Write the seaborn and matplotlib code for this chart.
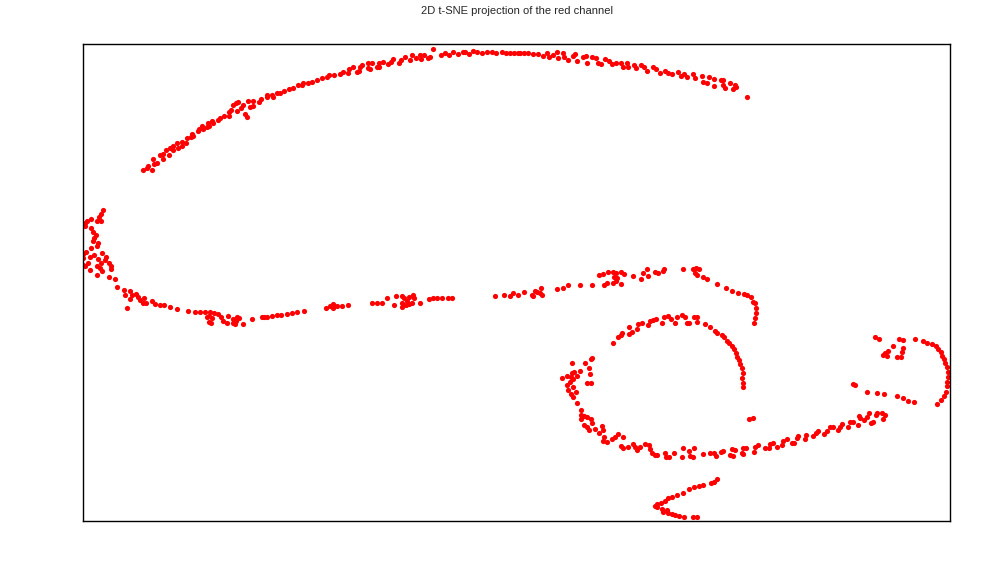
import numpy as np
import pandas as pd
import matplotlib
matplotlib.use("Agg")
import matplotlib.pyplot as plt
import seaborn as sns

# t-SNE embedding of the red channel (dim1, dim2)
upper_arc = [
    (143, 170), (148, 166), (147, 168), (152, 170), (153, 159), (154, 164), (157, 163), (160, 155),
    (163, 159), (163, 154), (166, 150), (169, 155), (170, 148), (173, 146), (173, 150), (177, 143),
    (178, 148), (182, 142), (182, 146), (186, 143), (187, 138), (191, 137), (192, 134), (193, 136),
    (198, 131), (199, 129), (202, 126), (203, 129), (207, 127), (208, 123), (209, 126), (212, 121),
    (213, 123), (218, 120), (220, 118), (224, 116), (229, 116), (229, 112), (231, 110), (233, 105),
    (236, 103), (238, 102), (237, 111), (241, 108), (245, 114), (247, 117), (243, 105), (248, 101),
    (250, 107), (253, 101), (253, 106), (259, 102), (261, 99), (267, 95), (267, 97), (272, 95),
    (273, 97), (277, 93), (280, 93), (284, 91), (289, 89), (293, 88), (298, 85), (302, 85),
    (303, 83), (308, 83), (312, 82), (317, 80), (322, 78), (327, 77), (329, 75),
    (334, 75), (340, 74), (343, 72), (348, 73), (349, 69), (353, 67), (357, 72), (359, 71),
    (360, 67), (362, 65), (368, 68), (368, 63), (370, 69), (372, 63), (377, 67), (379, 63),
    (379, 67), (383, 62), (388, 64), (391, 62), (393, 59), (399, 63), (401, 60), (405, 57),
    (410, 60), (412, 55), (416, 58), (420, 55), (421, 59), (424, 55), (428, 58), (430, 57),
    (433, 49), (441, 55), (445, 53), (449, 55), (453, 52), (458, 54), (463, 52), (465, 52),
    (469, 54), (473, 51), (477, 52), (482, 53), (487, 52), (492, 52), (496, 53), (502, 52),
    (506, 53), (510, 53), (514, 53), (518, 53),
    (520, 53), (524, 53), (528, 53), (533, 54), (538, 54), (543, 56), (547, 53), (549, 57),
    (553, 55), (557, 52), (558, 58), (563, 53), (564, 57), (568, 60), (573, 56), (575, 54),
    (577, 61), (583, 57), (586, 56), (587, 63), (592, 57), (596, 58), (598, 63), (601, 64),
    (605, 59), (609, 61), (612, 64), (616, 63), (621, 63), (623, 67), (627, 63), (628, 67),
    (634, 65), (636, 68), (641, 65), (644, 67), (647, 71), (653, 67), (656, 69), (660, 73),
    (665, 71), (668, 73), (672, 74), (678, 72), (681, 76), (684, 74), (687, 77), (693, 74),
    (695, 78), (702, 76), (703, 82), (707, 83), (709, 77), (714, 79), (714, 86), (721, 80),
    (723, 80), (723, 85), (725, 88), (730, 83), (733, 89), (735, 85), (736, 87), (747, 97),
]

left_hook = [
    (103, 210), (101, 214), (99, 217), (97, 221), (101, 221), (91, 219), (87, 221), (85, 223),
    (85, 226), (91, 228), (93, 232), (96, 235), (94, 238), (93, 241), (98, 243), (97, 246),
    (91, 248), (86, 252), (83, 254), (83, 258), (83, 265), (85, 266), (90, 270), (88, 263),
    (90, 257), (94, 255), (98, 259), (102, 253), (101, 263), (97, 266), (100, 268), (102, 271),
    (105, 260), (106, 257), (109, 263), (111, 266), (111, 269), (97, 275), (109, 277), (115, 279),
    (117, 287), (124, 290), (130, 291), (125, 295), (130, 299), (132, 295), (136, 294), (138, 297),
    (140, 300), (144, 298), (143, 303), (146, 303), (152, 301), (155, 304), (160, 305), (164, 305),
    (127, 308), (170, 307), (177, 309), (188, 311), (195, 312), (200, 312), (205, 312), (209, 316),
    (214, 313),
]

middle_band = [
    (210, 312), (207, 317), (212, 318), (209, 322), (211, 323), (218, 314), (221, 317), (223, 321),
    (227, 323), (228, 316), (233, 319), (233, 323), (236, 321), (237, 317), (239, 318), (235, 324),
    (243, 324), (252, 319), (262, 317), (264, 317), (267, 317), (272, 316), (277, 315), (281, 315),
    (287, 314), (292, 313), (297, 312), (304, 311), (326, 308), (330, 306), (333, 304), (334, 306),
    (333, 308), (337, 306), (342, 306), (348, 305), (372, 303), (377, 303), (382, 303), (387, 298),
    (396, 296), (394, 305), (402, 296), (404, 298), (407, 301), (409, 297), (413, 295), (414, 298),
    (402, 303), (402, 307), (406, 305), (409, 304), (412, 303), (420, 303), (429, 299), (433, 298),
    (437, 298), (442, 298), (448, 298), (452, 298),
    (495, 296), (504, 295), (510, 296), (513, 293), (518, 295), (524, 292), (532, 295), (533, 296),
    (535, 291), (537, 292), (541, 288), (540, 293), (542, 295), (557, 289), (563, 288), (568, 285),
    (580, 285), (592, 285), (604, 285), (607, 283), (613, 283), (616, 281), (621, 284), (599, 275),
    (603, 274), (608, 272), (613, 272), (616, 273), (621, 272), (624, 274), (614, 277), (617, 278),
    (633, 276), (641, 279), (643, 273), (647, 269), (648, 276), (655, 272), (658, 273), (663, 271),
    (664, 269), (683, 269), (693, 269), (696, 268), (699, 269), (695, 273), (697, 275), (703, 277),
    (707, 279), (717, 284), (726, 288), (732, 291), (738, 293), (744, 294), (747, 295), (751, 297),
    (753, 302), (755, 303), (756, 308), (756, 313), (755, 318), (754, 323),
]

ring = [
    (613, 343), (618, 337), (621, 335), (622, 333), (629, 334), (629, 327), (632, 332), (637, 329),
    (638, 324), (642, 323), (648, 325), (650, 321), (653, 320), (656, 319), (662, 323), (664, 317),
    (668, 316), (671, 319), (675, 323), (677, 317), (682, 315), (685, 317), (687, 323), (689, 323),
    (694, 317), (697, 317), (697, 322), (705, 324), (710, 327), (715, 331), (717, 333), (722, 335),
    (724, 337), (727, 341), (729, 343), (732, 346), (734, 349), (736, 353), (737, 357), (739, 360),
    (740, 364), (742, 368), (743, 373), (742, 378), (743, 383), (743, 387),
    (749, 419), (753, 418),
    (572, 363), (585, 363), (591, 359), (592, 358), (580, 371), (574, 372), (572, 373), (567, 376),
    (562, 378), (571, 377), (573, 379), (570, 382), (577, 376), (589, 368), (590, 374), (587, 383),
    (591, 383), (567, 385), (573, 387), (568, 390), (576, 392), (571, 394), (573, 397), (577, 403),
    (581, 410), (581, 415), (584, 416), (587, 417), (581, 419), (591, 419), (592, 423), (584, 425),
    (587, 427), (589, 430), (595, 429), (602, 426), (603, 430), (599, 433), (604, 437), (603, 441),
    (607, 442), (612, 439), (615, 437), (618, 434), (623, 437), (621, 446), (623, 448), (628, 447),
    (633, 444), (635, 447), (637, 450), (640, 447), (645, 444), (649, 445), (650, 449), (652, 453),
    (655, 455), (657, 455), (665, 453), (666, 457), (669, 457), (674, 453), (682, 457), (683, 448),
    (689, 451), (690, 456), (693, 457), (694, 448), (703, 454), (710, 453), (714, 453), (716, 456),
    (721, 452), (723, 451), (730, 455), (732, 449), (735, 450), (733, 456), (742, 453), (743, 448),
    (746, 448), (743, 454), (755, 447), (754, 452), (758, 445),
]

lower_tail = [
    (765, 448), (769, 448), (770, 444), (773, 443), (777, 447), (782, 445), (783, 441), (787, 439),
    (792, 443), (794, 443), (797, 438), (798, 436), (805, 439), (806, 435), (813, 436), (816, 433),
    (818, 431), (824, 434), (827, 431), (830, 427), (833, 427), (838, 430), (840, 427), (842, 424),
    (848, 427), (850, 422), (853, 422), (858, 425), (859, 416), (860, 418), (864, 420), (867, 417),
    (869, 413), (871, 423), (873, 422), (876, 415), (877, 413), (882, 413), (883, 419), (885, 415),
]

right_hook = [
    (875, 337), (879, 339), (899, 339), (903, 340), (893, 346), (903, 348), (902, 352), (888, 351),
    (885, 353), (883, 355), (887, 356), (897, 357), (901, 357), (915, 339), (923, 341), (927, 343),
    (932, 344), (936, 346), (938, 349), (941, 352), (942, 356), (944, 359), (945, 363), (947, 367),
    (948, 372), (948, 377), (947, 382), (947, 386), (946, 392), (944, 396), (941, 400), (937, 404),
    (853, 384), (855, 385), (867, 392), (877, 393), (884, 394), (897, 396), (903, 398), (908, 401),
    (914, 402),
]

bottom_tail = [
    (717, 479), (714, 482), (711, 483), (703, 485), (699, 486), (694, 487), (689, 489), (683, 493),
    (677, 495), (672, 497), (668, 498), (665, 501), (661, 503), (657, 504), (655, 506), (657, 507),
    (662, 509), (667, 510), (668, 513), (672, 514), (675, 515), (679, 516), (684, 517), (693, 517),
    (697, 517), (663, 512),
]

segments = [upper_arc, left_hook, middle_band, ring, lower_tail, right_hook, bottom_tail]
pts = np.array([p for seg in segments for p in seg], dtype=float)
df = pd.DataFrame({"dim1": pts[:, 0], "dim2": pts[:, 1]})

sns.set_theme(style="white")
plt.rcParams["font.family"] = ["Liberation Sans", "DejaVu Sans"]

fig = plt.figure(figsize=(10, 5.68), dpi=100)
ax = fig.add_axes([0.083, 0.0827, 0.867, 0.8398])

sns.scatterplot(data=df, x="dim1", y="dim2", color="red", s=14, linewidth=0, ax=ax)

ax.set_xlim(83, 950)
ax.set_ylim(521, 44)
ax.set_xticks([])
ax.set_yticks([])
ax.set_xlabel("")
ax.set_ylabel("")
for sp in ax.spines.values():
    sp.set_color("black")
    sp.set_linewidth(1.0)

fig.suptitle("2D t-SNE projection of the red channel", x=0.517, y=1 - 11 / 568, va="center",
             fontsize=8, color="#262626")

fig.savefig("out.png", dpi=100)
